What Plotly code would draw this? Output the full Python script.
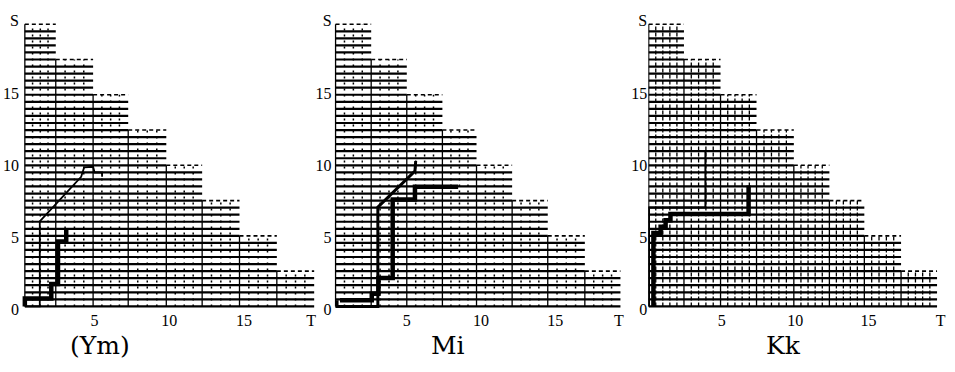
import plotly.graph_objects as go

W, H = 955, 372

# ---------------- data ----------------
panel_names = ["(Ym)", "Mi", "Kk"]

# right ends of the staircase steps (T), bottom step first
step_T_ym = [19.7, 17.2, 14.7, 12.2, 9.8, 7.25, 4.9, 2.4]
step_T_mi = [19.4, 17.0, 14.5, 12.1, 9.7, 7.4, 5.0, 2.6]
step_T_kk = [19.66, 17.21, 14.71, 12.33, 9.91, 7.37, 4.92, 2.43]
# top S of each step, bottom step first
step_S = [2.65, 5.1, 7.55, 10.0, 12.45, 14.9, 17.35, 19.8]
# left edge of the grid (T) per panel
left_T = [0.33, 0.2, 0.03]
# horizontal grid lines: first line and spacing (S)
line_S0 = 0.2
line_gap = 0.49
lines_per_step = 5

# thin path (T, S)
ym_thin_T = [0.33, 1.33, 1.33, 4.1, 4.3, 4.9, 5.0, 5.5, 5.5]
ym_thin_S = [0.2, 0.2, 6.1, 9.2, 9.85, 9.9, 9.5, 9.5, 9.2]
mi_thin_T = [0.3, 0.3, 3.05, 3.05, 5.55, 5.6]
mi_thin_S = [0.62, 0.2, 0.2, 7.1, 9.6, 10.3]
kk_thin_T = [0.05, 0.05, 3.89, 3.89]
kk_thin_S = [0.2, 7.07, 7.07, 10.95]

# thick path (T, S)
ym_thick_T = [0.33, 0.33, 2.1, 2.1, 2.55, 2.55, 3.1, 3.1]
ym_thick_S = [0.2, 0.75, 0.75, 1.75, 1.75, 4.7, 4.7, 5.5]
mi_thick_T = [0.5, 2.64, 2.64, 3.09, 3.09, 4.05, 4.05, 5.55, 5.55, 8.46]
mi_thick_S = [0.62, 0.62, 1.07, 1.07, 2.18, 2.18, 7.62, 7.62, 8.51, 8.51]
kk_thick_T = [0.35, 0.35, 0.84, 0.84, 1.18, 1.18, 1.51, 1.51, 6.83, 6.83]
kk_thick_S = [0.2, 5.29, 5.29, 5.73, 5.73, 6.18, 6.18, 6.62, 6.62, 8.6]

# tick labels
x_tickvals = [[5, 10, 15, 19.5], [5, 10, 15, 19.3], [5, 10, 15, 19.9]]
x_ticktext = ["5", "10", "15", "T"]
y_tickvals = [0, 5, 10, 15, 20.05]
y_ticktext = ["0", "5", "10", "15", "S"]

# ---------------- layout geometry ----------------
origin_px = [20, 334, 651]      # pixel x of T = 0
px_per_T = [15.0, 14.9, 14.75]
T_max = 20.0
S_max = 20.2
y0_px = 316                     # pixel y of S = 0
px_per_S = 15.0

steps_T = [step_T_ym, step_T_mi, step_T_kk]
thin = [(ym_thin_T, ym_thin_S), (mi_thin_T, mi_thin_S), (kk_thin_T, kk_thin_S)]
thick = [(ym_thick_T, ym_thick_S), (mi_thick_T, mi_thick_S), (kk_thick_T, kk_thick_S)]
thin_w = [1.8, 3.0, 2.0]
sub_n = [4, 4, 5]
sub_dash = ["2px,4px", "2px,4px", "4px,2px"]
sub_w = [1.5, 1.5, 1.3]

fig = go.Figure()
FONT = "Liberation Serif"

for p in range(3):
    xa = "x" if p == 0 else f"x{p+1}"
    ya = "y" if p == 0 else f"y{p+1}"
    sT = steps_T[p]
    L = left_T[p]
    n_lines = lines_per_step * len(step_S) + 1

    # horizontal lines
    hx, hy, dx, dy = [], [], [], []
    for i in range(n_lines):
        S = line_S0 + line_gap * i
        is_top = (i % lines_per_step == 0) and i > 0
        if is_top:
            k_top = i // lines_per_step - 1
            right = sT[k_top]
            nxt = sT[k_top + 1] if k_top + 1 < len(sT) else L
            hx += [L, nxt, None]
            hy += [S, S, None]
            dx += [nxt, right, None]
            dy += [S, S, None]
        else:
            k = i // lines_per_step
            hx += [L, sT[k], None]
            hy += [S, S, None]
    fig.add_trace(go.Scatter(x=hx, y=hy, mode="lines", xaxis=xa, yaxis=ya,
                             line=dict(color="black", width=2.2), hoverinfo="skip", showlegend=False))
    fig.add_trace(go.Scatter(x=dx, y=dy, mode="lines", xaxis=xa, yaxis=ya,
                             line=dict(color="black", width=1.6, dash="4px,3px"), hoverinfo="skip", showlegend=False))

    # column boundaries (ascending) and column tops
    bounds = [L] + sT[::-1]
    tops = step_S[::-1]
    # solid step verticals
    vx, vy = [L, L, None], [line_S0, tops[0], None]
    for m in range(len(bounds) - 2):
        vx += [bounds[m + 1], bounds[m + 1], None]
        vy += [line_S0, tops[m + 1], None]
    fig.add_trace(go.Scatter(x=vx, y=vy, mode="lines", xaxis=xa, yaxis=ya,
                             line=dict(color="black", width=1.3), hoverinfo="skip", showlegend=False))
    # dotted subdivisions
    ux, uy = [], []
    for m in range(len(bounds) - 1):
        a, b = bounds[m], bounds[m + 1]
        for j in range(1, sub_n[p]):
            t = a + (b - a) * j / sub_n[p]
            ux += [t, t, None]
            uy += [line_S0, tops[m], None]
    fig.add_trace(go.Scatter(x=ux, y=uy, mode="lines", xaxis=xa, yaxis=ya,
                             line=dict(color="black", width=sub_w[p], dash=sub_dash[p]),
                             hoverinfo="skip", showlegend=False))

    # paths
    fig.add_trace(go.Scatter(x=thin[p][0], y=thin[p][1], mode="lines", xaxis=xa, yaxis=ya,
                             line=dict(color="black", width=thin_w[p]), hoverinfo="skip", showlegend=False))
    fig.add_trace(go.Scatter(x=thick[p][0], y=thick[p][1], mode="lines", xaxis=xa, yaxis=ya,
                             line=dict(color="black", width=4.5), hoverinfo="skip", showlegend=False))

    x0 = origin_px[p] / W
    x1 = (origin_px[p] + T_max * px_per_T[p]) / W
    ydom = [1 - y0_px / H, 1 - (y0_px - S_max * px_per_S) / H]
    axis_common = dict(showgrid=False, zeroline=False, showline=False, ticks="",
                       tickfont=dict(family=FONT, size=16, color="black"))
    fig.update_layout(**{
        ("xaxis" if p == 0 else f"xaxis{p+1}"): dict(
            domain=[x0, x1], range=[0, T_max], anchor=ya,
            tickmode="array", tickvals=x_tickvals[p], ticktext=x_ticktext, **axis_common),
        ("yaxis" if p == 0 else f"yaxis{p+1}"): dict(
            domain=ydom, range=[0, S_max], anchor=xa,
            tickmode="array", tickvals=y_tickvals, ticktext=y_ticktext, **axis_common),
    })

# panel labels
label_x_px = [100, 450, 787]
for p in range(3):
    fig.add_annotation(text=panel_names[p], x=label_x_px[p] / W, y=1 - 354 / H,
                       xref="paper", yref="paper", xanchor="center", yanchor="middle",
                       showarrow=False, font=dict(family="DejaVu Serif", size=25, color="black"))

fig.update_layout(width=W, height=H, margin=dict(l=0, r=0, t=0, b=0),
                  plot_bgcolor="white", paper_bgcolor="white")
fig.write_html("out.html")
